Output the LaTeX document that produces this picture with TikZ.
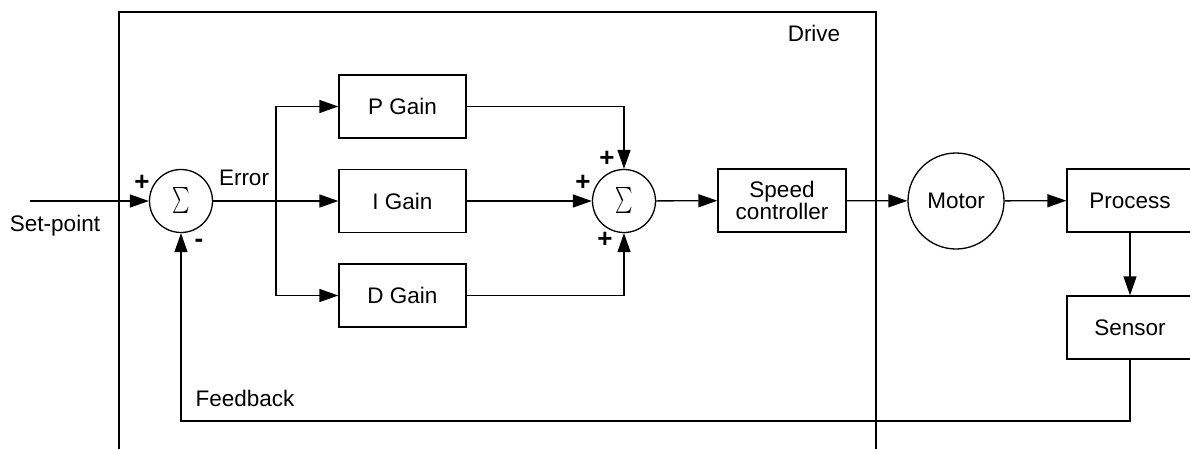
\documentclass[tikz,border=0pt]{standalone}
\usepackage{fontspec}
\setmainfont{Liberation Sans}
\usepackage{graphicx}
\usetikzlibrary{arrows.meta}
\newcommand{\sumsym}{\scalebox{1.65}[2.6]{$\textstyle\sum$}}
\begin{document}
\begin{tikzpicture}[x=1pt,y=-1pt, line width=1.3pt,
  font=\fontsize{22.5}{26}\selectfont,
  blk/.style={draw, rectangle, minimum width=127pt, minimum height=63pt, inner sep=0pt, align=center},
  sumc/.style={draw, circle, minimum size=63pt, inner sep=0pt},
  arr/.style={-{Triangle[length=19pt,width=13pt]}},
  lbl/.style={inner sep=0pt},
  sgn/.style={inner sep=0pt, font=\fontsize{26}{28}\selectfont\bfseries}]
\useasboundingbox (0,0) rectangle (1190,448);
% drive frame
\draw (119,460) -- (119,12) -- (876,12) -- (876,460);
\node[lbl] (drive) at (814,33) {Drive};
% nodes
\node[sumc] (s1) at (181,201) {\sumsym};
\node[sumc] (s2) at (624,201) {\sumsym};
\node[blk] (pg) at (402.5,106.5) {P Gain};
\node[blk] (ig) at (402.5,201) {I Gain};
\node[blk] (dg) at (402.5,295.5) {D Gain};
\node[blk, minimum width=128pt] (sc) at (782,200.5) {Speed\\[-4pt]controller};
\node[draw, circle, minimum size=96pt, inner sep=0pt] (mo) at (956,201) {Motor};
\node[blk, minimum width=126pt] (pr) at (1130,200.5) {Process};
\node[blk, minimum width=126pt] (se) at (1130,327.5) {Sensor};
% labels
\node[lbl] (setp) at (55,226) {Set-point};
\node[lbl] (err) at (244,178) {Error};
\node[lbl] (fbl) at (245,398) {Feedback};
\node[sgn] (p1) at (142,183) {+};
\node[sgn] (m1) at (199,243) {-};
\node[sgn] (p2) at (607,159) {+};
\node[sgn] (p3) at (583,183) {+};
\node[sgn] (p4) at (605,240) {+};
% connectors
\coordinate (sp) at (30,201);
\coordinate (br) at (276,201);
\coordinate (fb) at (181,421);
\draw[arr] (sp) -- (s1);
\draw (s1) -- (br);
\draw[arr] (br) |- (pg.west);
\draw[arr] (br) |- (dg.west);
\draw[arr] (br) -- (ig.west);
\draw[arr] (pg.east) -| (s2.north);
\draw[arr] (dg.east) -| (s2.south);
\draw[arr] (ig) -- (s2);
\draw[arr] (s2) -- (sc);
\draw[arr] (sc) -- (mo);
\draw[arr] (mo) -- (pr);
\draw[arr] (pr) -- (se);
\draw[arr] (se.south) |- (fb) -- (s1.south);
\end{tikzpicture}
\end{document}
